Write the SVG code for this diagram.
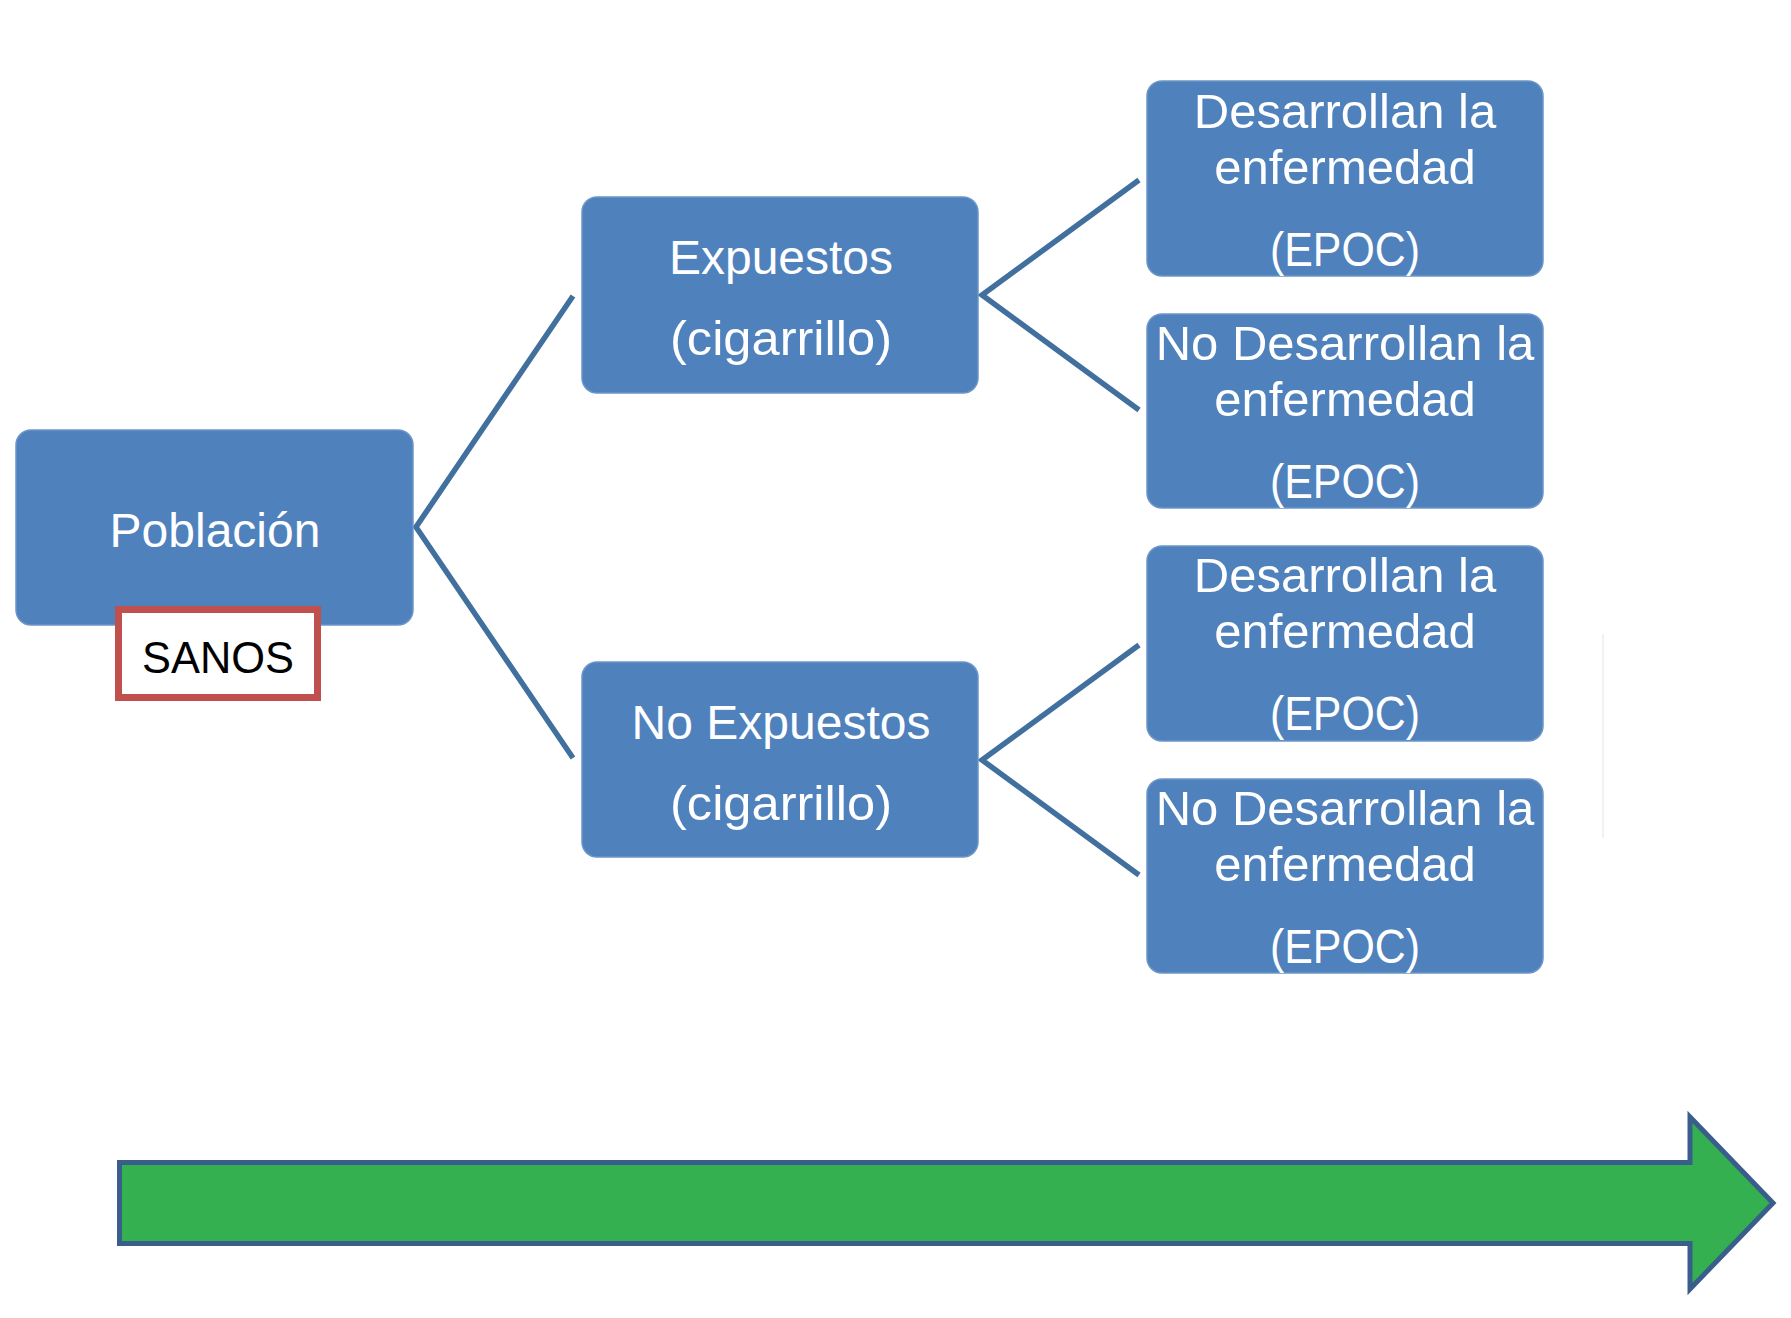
<svg xmlns="http://www.w3.org/2000/svg" width="1791" height="1318" viewBox="0 0 1791 1318">
  <style>
    .box { fill: #4F81BD; stroke: #6B95C8; stroke-width: 1.5; }
    .lbl { font-family: "Liberation Sans", Arial, sans-serif; fill: #FFFFFF; text-anchor: middle; }
    .mid { font-size: 48px; }
    .leaf { font-size: 49px; }
    .conn { fill: none; stroke: #41709F; stroke-width: 5.5; stroke-linejoin: miter; stroke-miterlimit: 10; }
  </style>
  <rect width="1791" height="1318" fill="#FFFFFF"/>

  <g id="connectors">
    <path class="conn" d="M573,296 L416,527 L573,758"/>
    <path class="conn" d="M1139,180 L982,295 L1139,410"/>
    <path class="conn" d="M1139,645 L982,760 L1139,875"/>
  </g>

  <g id="poblacion">
    <rect class="box" x="16" y="430" width="397" height="195" rx="15"/>
    <text class="lbl" x="215" y="547" font-size="48">Población</text>
  </g>

  <g id="sanos">
    <rect x="118.5" y="609.5" width="199" height="88" fill="#FFFFFF" stroke="#C0504D" stroke-width="7"/>
    <text x="218" y="673" font-family="'Liberation Sans', Arial, sans-serif" font-size="44" fill="#000000" text-anchor="middle" textLength="152" lengthAdjust="spacingAndGlyphs">SANOS</text>
  </g>

  <g id="expuestos">
    <rect class="box" x="582" y="197" width="396" height="196" rx="15"/>
    <text class="lbl mid" x="781" y="274">Expuestos</text>
    <text class="lbl mid" x="781" y="355" textLength="222" lengthAdjust="spacingAndGlyphs">(cigarrillo)</text>
  </g>

  <g id="no-expuestos">
    <rect class="box" x="582" y="662" width="396" height="195" rx="15"/>
    <text class="lbl mid" x="781" y="739">No Expuestos</text>
    <text class="lbl mid" x="781" y="820" textLength="222" lengthAdjust="spacingAndGlyphs">(cigarrillo)</text>
  </g>

  <g id="exp-desarrollan">
    <rect class="box" x="1147" y="81" width="396" height="195" rx="15"/>
    <text class="lbl leaf" x="1345" y="128">Desarrollan la</text>
    <text class="lbl leaf" x="1345" y="184">enfermedad</text>
    <text class="lbl leaf" x="1345" y="266" textLength="150" lengthAdjust="spacingAndGlyphs">(EPOC)</text>
  </g>

  <g id="exp-no-desarrollan">
    <rect class="box" x="1147" y="314" width="396" height="194" rx="15"/>
    <text class="lbl leaf" x="1345" y="360">No Desarrollan la</text>
    <text class="lbl leaf" x="1345" y="416">enfermedad</text>
    <text class="lbl leaf" x="1345" y="498" textLength="150" lengthAdjust="spacingAndGlyphs">(EPOC)</text>
  </g>

  <g id="noexp-desarrollan">
    <rect class="box" x="1147" y="546" width="396" height="195" rx="15"/>
    <text class="lbl leaf" x="1345" y="592">Desarrollan la</text>
    <text class="lbl leaf" x="1345" y="648">enfermedad</text>
    <text class="lbl leaf" x="1345" y="730" textLength="150" lengthAdjust="spacingAndGlyphs">(EPOC)</text>
  </g>

  <g id="noexp-no-desarrollan">
    <rect class="box" x="1147" y="779" width="396" height="194" rx="15"/>
    <text class="lbl leaf" x="1345" y="825">No Desarrollan la</text>
    <text class="lbl leaf" x="1345" y="881">enfermedad</text>
    <text class="lbl leaf" x="1345" y="963" textLength="150" lengthAdjust="spacingAndGlyphs">(EPOC)</text>
  </g>

  <line x1="1603" y1="634" x2="1603" y2="838" stroke="#F2F2F2" stroke-width="2"/>

  <g id="timeline-arrow">
    <polygon points="119.5,1162.5 1690,1162.5 1690,1117 1773,1203 1690,1289 1690,1243.5 119.5,1243.5" fill="#34B050" stroke="#3A5E8C" stroke-width="5" stroke-linejoin="miter"/>
  </g>
</svg>
